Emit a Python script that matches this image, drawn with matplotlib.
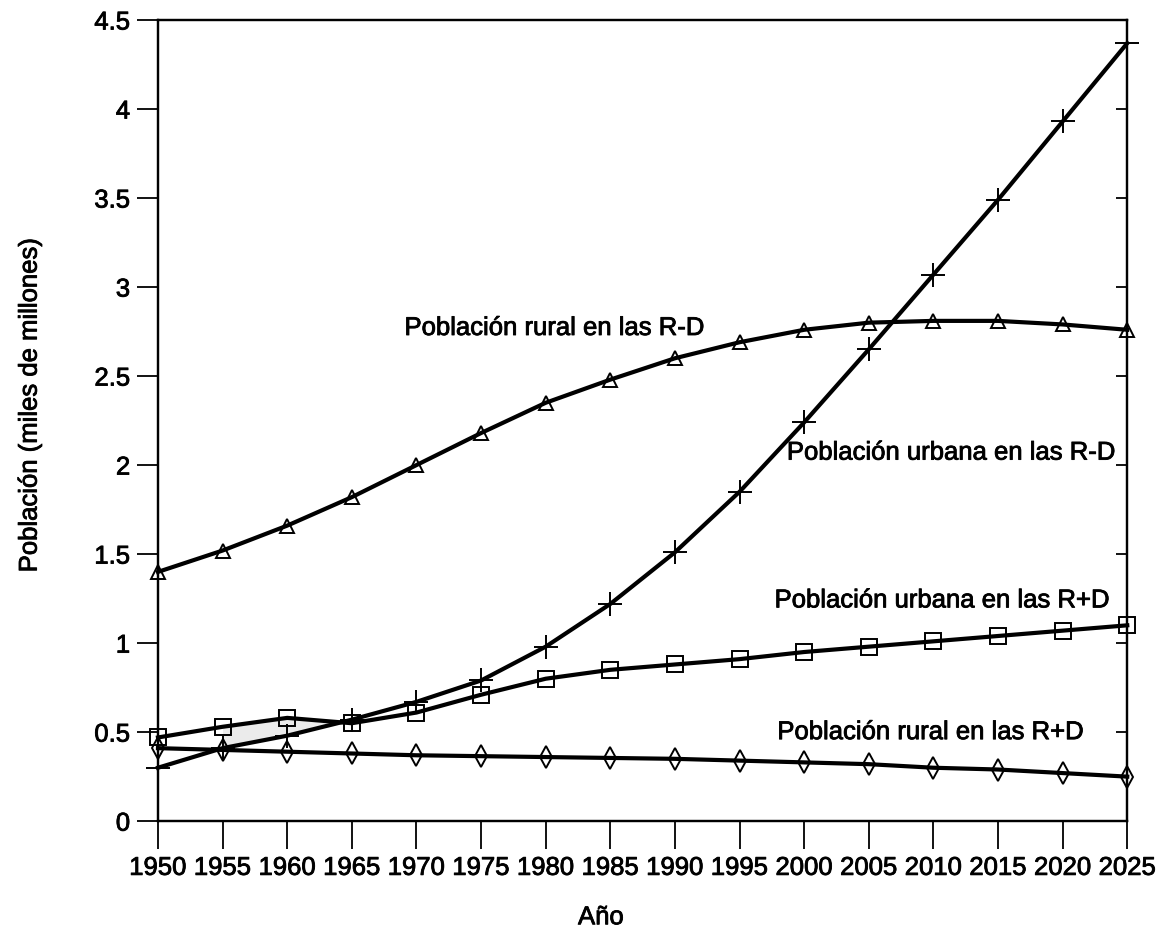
import matplotlib
matplotlib.use("Agg")
import matplotlib.pyplot as plt
import matplotlib.patheffects as pe
import numpy as np
from matplotlib.ticker import FuncFormatter, MultipleLocator

plt.rcParams['font.family'] = ['Liberation Sans', 'DejaVu Sans']
# slight stroke to mimic the heavier printed type
plt.rcParams['path.effects'] = []

# Data (miles de millones)
years = [1950, 1955, 1960, 1965, 1970, 1975, 1980, 1985,
         1990, 1995, 2000, 2005, 2010, 2015, 2020, 2025]
rural_rd = [1.40, 1.52, 1.66, 1.82, 2.00, 2.18, 2.35, 2.48,
            2.60, 2.69, 2.76, 2.80, 2.81, 2.81, 2.79, 2.76]
urbana_rd = [0.30, 0.41, 0.48, 0.57, 0.67, 0.79, 0.98, 1.22,
             1.51, 1.85, 2.24, 2.65, 3.07, 3.49, 3.93, 4.37]
urbana_rp = [0.47, 0.53, 0.58, 0.55, 0.61, 0.71, 0.80, 0.85,
             0.88, 0.91, 0.95, 0.98, 1.01, 1.04, 1.07, 1.10]
rural_rp = [0.41, 0.40, 0.39, 0.38, 0.37, 0.365, 0.36, 0.355,
            0.35, 0.34, 0.33, 0.32, 0.30, 0.29, 0.27, 0.25]

labels = ['Población rural en las R-D', 'Población urbana en las R-D',
          'Población urbana en las R+D', 'Población rural en las R+D']

fig = plt.figure(figsize=(11.65, 9.31), dpi=100)
ax = fig.add_axes([0.1356, 0.118, 0.832, 0.8605])

txt_fx = [pe.withStroke(linewidth=0.6, foreground='black')]

yr = np.array(years)
# faint gray shading where the urban curves cross
ax.fill_between(yr, urbana_rp, urbana_rd,
                where=(yr >= 1955) & (yr <= 1965), color='#ebebeb', lw=0)

series = [(rural_rd, '^', 9.5), (urbana_rd, '+', 17),
          (urbana_rp, 's', 11), (rural_rp, 'd', 11)]
for vals, mk, ms in series:
    ax.plot(years, vals, color='black', lw=3.0, zorder=3, clip_on=False)
    ax.plot(years, vals, ls='none', marker=mk, ms=ms, mfc='none',
            mec='black', mew=1.4, zorder=4, clip_on=False)

ax.set_xlim(1950, 2025)
ax.set_ylim(0, 4.5)
ax.set_xticks(years)
ax.yaxis.set_major_locator(MultipleLocator(0.5))
ax.yaxis.set_major_formatter(FuncFormatter(lambda v, p: ('%g' % v)))

ax.tick_params(axis='x', direction='out', length=20, width=1.3,
               labelsize=18.5, pad=5)
ax.tick_params(axis='y', direction='out', length=15, width=1.3,
               labelsize=18.5, pad=5)
for s in ax.spines.values():
    s.set_linewidth(1.6)

# inward ticks on the right spine
ax2 = ax.twinx()
ax2.set_ylim(0, 4.5)
ax2.yaxis.set_major_locator(MultipleLocator(0.5))
ax2.tick_params(axis='y', direction='in', length=8, width=1.3,
                labelright=False)
for s in ax2.spines.values():
    s.set_linewidth(1.6)

for t in ax.get_xticklabels() + ax.get_yticklabels():
    t.set_path_effects(txt_fx)

ax.set_xlabel('Año', fontsize=18.5, path_effects=txt_fx)
ax.xaxis.set_label_coords(0.457, -0.105)
ax.set_ylabel('Población (miles de millones)', fontsize=18.5,
              path_effects=txt_fx)
ax.yaxis.set_label_coords(-0.12, 0.52)

ax.text(1980.7, 2.77, labels[0], fontsize=18.5, ha='center', va='center',
        path_effects=txt_fx)
ax.text(2011.4, 2.07, labels[1], fontsize=18.5, ha='center', va='center',
        path_effects=txt_fx)
ax.text(2010.7, 1.24, labels[2], fontsize=18.5, ha='center', va='center',
        path_effects=txt_fx)
ax.text(2009.8, 0.50, labels[3], fontsize=18.5, ha='center', va='center',
        path_effects=txt_fx)

fig.savefig('out.png', dpi=100)
